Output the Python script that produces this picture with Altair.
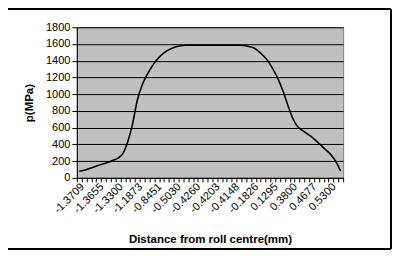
import altair as alt
import pandas as pd

# Category index along the x axis (one per sample point)
idx = list(range(55))
# Pressure p (MPa)
p_values = [80, 90, 110, 130, 150, 168, 187, 210, 235, 290,
            430, 640, 930, 1110, 1230, 1330, 1410, 1470, 1515, 1545,
            1568, 1580, 1585, 1585, 1585, 1585, 1585, 1585, 1585, 1585,
            1585, 1585, 1585, 1585, 1583, 1570, 1555, 1515, 1460, 1395,
            1300, 1190, 1050, 880, 725, 620, 570, 530, 490, 440,
            385, 330, 275, 195, 80]
# Visible x tick labels (every 4th category)
x_labels = ["-1.3709", "-1.3655", "-1.3300", "-1.1873", "-0.8451", "-0.5030",
            "-0.4260", "-0.4203", "-0.4148", "-0.1826", "0.1295", "0.3800",
            "0.4677", "0.5300"]
y_ticks = [0, 200, 400, 600, 800, 1000, 1200, 1400, 1600, 1800]

df = pd.DataFrame({"i": idx, "p": p_values})
n = len(idx)
boundaries = [k - 0.5 for k in range(n + 1)]
label_pos = [4 * k for k in range(len(x_labels))]
label_arr = "[" + ",".join("'" + s + "'" for s in x_labels) + "]"

FONT = "Liberation Sans"
xscale = alt.Scale(domain=[-0.5, n - 0.5], nice=False, zero=False)
yscale = alt.Scale(domain=[0, 1800], nice=False)

line = alt.Chart(df).mark_line(color="black", strokeWidth=1.6, interpolate="monotone").encode(
    x=alt.X("i:Q", scale=xscale,
            axis=alt.Axis(values=boundaries, labels=False, tickSize=4, tickColor="black",
                          domainColor="black", grid=False, orient="bottom",
                          title="Distance from roll centre(mm)", titleFont=FONT,
                          titleFontSize=11.5, titleFontWeight="bold", titleColor="black",
                          titleX=133.5, titleY=62, titleBaseline="middle")),
    y=alt.Y("p:Q", scale=yscale,
            axis=alt.Axis(values=y_ticks, format="d", tickSize=5, tickColor="black",
                          domainColor="black",
                          grid=True, gridColor="black", gridOpacity=1, labelFont=FONT,
                          labelFontSize=11, labelColor="black", labelPadding=2,
                          title="p(MPa)", titleFont=FONT, titleFontSize=11.5,
                          titleFontWeight="bold", titleColor="black", titleAngle=270,
                          titleX=-47, titleY=75.5, titleAlign="center",
                          titleBaseline="middle")),
)

labels_layer = alt.Chart(df).mark_line(opacity=0).encode(
    x=alt.X("i:Q", scale=xscale,
            axis=alt.Axis(values=label_pos, tickSize=0, domain=False, grid=False,
                          orient="bottom", labelAngle=-45, labelAlign="right",
                          labelBaseline="middle", labelPadding=7, labelOffset=3,
                          labelFont=FONT, labelFontSize=11, labelColor="black",
                          labelOverlap=False,
                          labelExpr=label_arr + "[round(datum.value/4)]", title=None)),
    y=alt.Y("p:Q", scale=yscale, axis=None),
)

frame = alt.Chart(df).mark_rect(fillOpacity=0, stroke="black", strokeWidth=1).encode(
    x=alt.value(-70), x2=alt.value(315), y=alt.value(-18), y2=alt.value(222)
)

chart = alt.layer(line, labels_layer, frame).resolve_axis(
    x="independent", y="independent"
).properties(
    width=267, height=151,
    autosize=alt.AutoSizeParams(type="none"),
    padding={"left": 69, "top": 19, "right": 49, "bottom": 72},
    background="white",
).configure_view(fill="#C0C0C0", stroke="#808080", strokeWidth=1)

chart.save("out.html", embed_options={"renderer": "svg", "actions": False})
